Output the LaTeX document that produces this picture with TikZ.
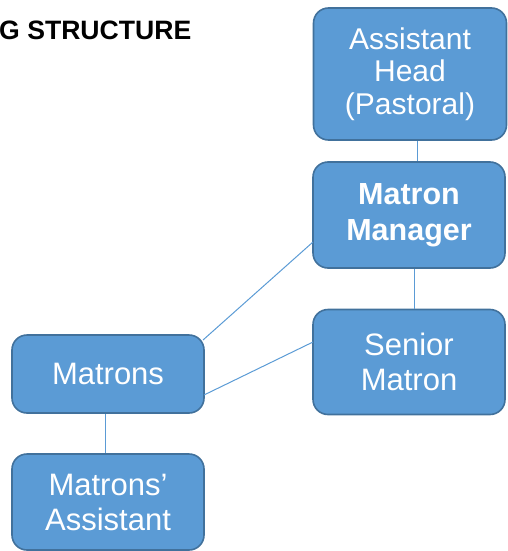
\documentclass[tikz,border=0pt]{standalone}
\usepackage{fontspec}
\setmainfont{Liberation Sans}
\definecolor{boxfill}{HTML}{5B9BD5}
\definecolor{boxdraw}{HTML}{41719C}
\definecolor{linkc}{HTML}{5B9BD5}
\begin{document}
\begin{tikzpicture}[x=1pt,y=-1pt,
  orgbox/.style={draw=boxdraw,line width=1.6pt,fill=boxfill,rounded corners=15pt,
    text=white,align=center,inner sep=0pt,
    font=\fontsize{31}{35}\selectfont},
  link/.style={draw=linkc,line width=1pt}]
\useasboundingbox (0,0) rectangle (507,551);
\node[anchor=base west,inner sep=0pt,font=\fontsize{26.6}{28}\selectfont\bfseries] (title) at (-1,40) {G STRUCTURE};
\node[orgbox,minimum width=193pt,minimum height=132pt,font=\fontsize{30}{32.5}\selectfont] (ah) at (410,74) {Assistant\\Head\\(Pastoral)};
\node[orgbox,minimum width=192pt,minimum height=106pt,font=\fontsize{30.5}{36}\selectfont\bfseries] (mm) at (409,215) {Matron\\Manager};
\node[orgbox,minimum width=192pt,minimum height=105pt] (sm) at (409,362) {Senior\\Matron};
\node[orgbox,minimum width=192pt,minimum height=78pt] (ma) at (108,374) {Matrons};
\node[orgbox,minimum width=192pt,minimum height=96pt] (mas) at (108,502) {Matrons’\\Assistant};
\coordinate (mmL) at (313,242);
\coordinate (mtTR) at (203,340);
\coordinate (smL) at (313,342);
\coordinate (mtR) at (204,395);
\draw[link] ([xshift=7pt]ah.south) -- ([xshift=8pt]mm.north);
\draw[link] ([xshift=5pt]mm.south) -- ([xshift=5pt]sm.north);
\draw[link] (mmL) -- (mtTR);
\draw[link] (smL) -- (mtR);
\draw[link] ([xshift=-3pt]ma.south) -- ([xshift=-3pt]mas.north);
\end{tikzpicture}
\end{document}
